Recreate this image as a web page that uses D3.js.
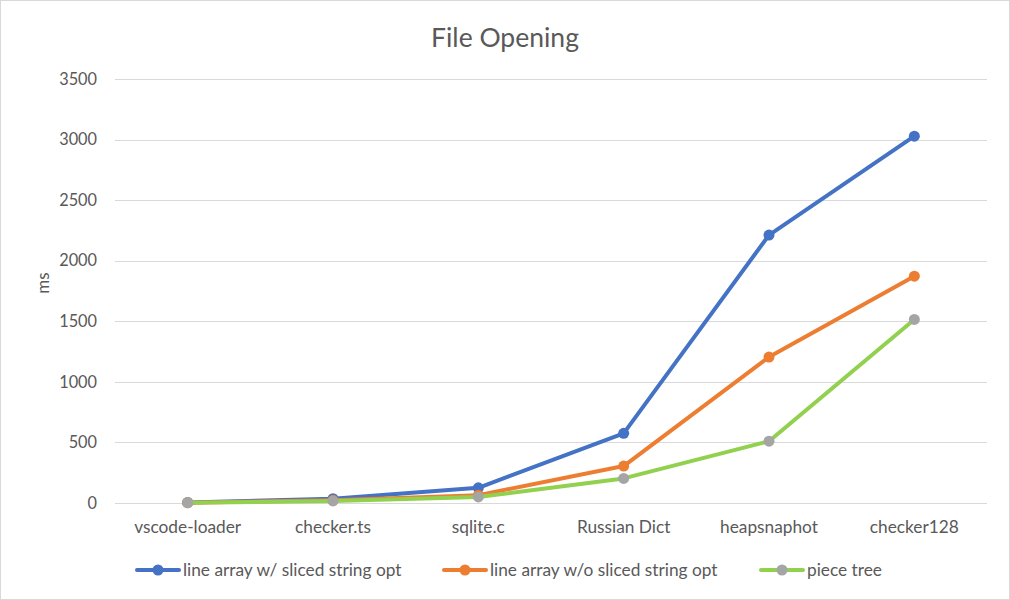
<!DOCTYPE html>
<html><head><meta charset="utf-8">
<script src="https://cdn.jsdelivr.net/npm/d3@7"></script>
<style>body{margin:0;background:#fff}svg{display:block}text{font-family:Lato,"Open Sans",sans-serif}</style>
</head><body><svg id="c" width="1010" height="600"></svg>
<script>
const categories = ["vscode-loader","checker.ts","sqlite.c","Russian Dict","heapsnaphot","checker128"];
const seriesNames = ["line array w/ sliced string opt","line array w/o sliced string opt","piece tree"];
const withSliced = [5, 36, 125, 575, 2212, 3028];
const withoutSliced = [3, 22, 65, 305, 1205, 1872];
const pieceTree = [2, 17, 50, 203, 510, 1515];
const yTicks = [0,500,1000,1500,2000,2500,3000,3500];
const lineColors = ["#4472C4","#ED7D31","#92D050"];
const markerColors = ["#4472C4","#ED7D31","#A5A5A5"];
const seriesData = [withSliced, withoutSliced, pieceTree];

(function(){
const svg = d3.select("#c");
svg.append("rect").attr("x",0.5).attr("y",0.5).attr("width",1009).attr("height",599).attr("fill","#fff").attr("stroke","#D9D9D9");

const pLeft=115, pRight=987, pTop=79, pBottom=503;
const x = d3.scaleBand().domain(categories).range([pLeft,pRight]);
const y = d3.scaleLinear().domain([0,3500]).range([pBottom,pTop]);

svg.append("text").attr("x",505).attr("y",47).attr("text-anchor","middle").attr("font-size",26.5).attr("fill","#595959").text("File Opening");

const grid = svg.append("g");
grid.selectAll("line").data(yTicks).join("line")
  .attr("x1",pLeft).attr("x2",pRight).attr("y1",d=>Math.round(y(d))+0.5).attr("y2",d=>Math.round(y(d))+0.5)
  .attr("stroke","#D9D9D9").attr("stroke-width",1);

const yAxis = svg.append("g").attr("transform",`translate(${pLeft},0)`)
  .call(d3.axisLeft(y).tickValues(yTicks).tickSize(0).tickPadding(18).tickFormat(d3.format("d")));
yAxis.select(".domain").remove();
yAxis.selectAll("text").attr("font-size",16.3).attr("fill","#595959").style("font-family","Lato,'Open Sans',sans-serif");

const xAxis = svg.append("g").attr("transform",`translate(0,${pBottom})`)
  .call(d3.axisBottom(x).tickSize(0).tickPadding(18));
xAxis.select(".domain").remove();
xAxis.selectAll("text").attr("font-size",17.3).attr("fill","#595959").style("font-family","Lato,'Open Sans',sans-serif");

svg.append("text").attr("transform","translate(49,283) rotate(-90)").attr("text-anchor","middle")
  .attr("font-size",17).attr("fill","#595959").text("ms");

const line = d3.line().x((d,i)=>x(categories[i])+x.bandwidth()/2).y(d=>y(d));
seriesData.forEach((s,k)=>{
  const g = svg.append("g");
  g.append("path").attr("d",line(s)).attr("fill","none").attr("stroke",lineColors[k]).attr("stroke-width",4).attr("stroke-linejoin","round").attr("stroke-linecap","round");
  g.selectAll("circle").data(s).join("circle")
    .attr("cx",(d,i)=>x(categories[i])+x.bandwidth()/2).attr("cy",d=>y(d)).attr("r",5.5).attr("fill",markerColors[k]);
});

const legendX = [137, 444, 761];
const lg = svg.append("g");
seriesNames.forEach((n,k)=>{
  const gx = legendX[k], gy = 570;
  lg.append("line").attr("x1",gx).attr("x2",gx+42).attr("y1",gy).attr("y2",gy).attr("stroke",lineColors[k]).attr("stroke-width",4).attr("stroke-linecap","round");
  lg.append("circle").attr("cx",gx+21).attr("cy",gy).attr("r",5.5).attr("fill",markerColors[k]);
  lg.append("text").attr("x",gx+46).attr("y",gy+6).attr("font-size",17.3).attr("fill","#595959").text(n);
});
})();
</script></body></html>
